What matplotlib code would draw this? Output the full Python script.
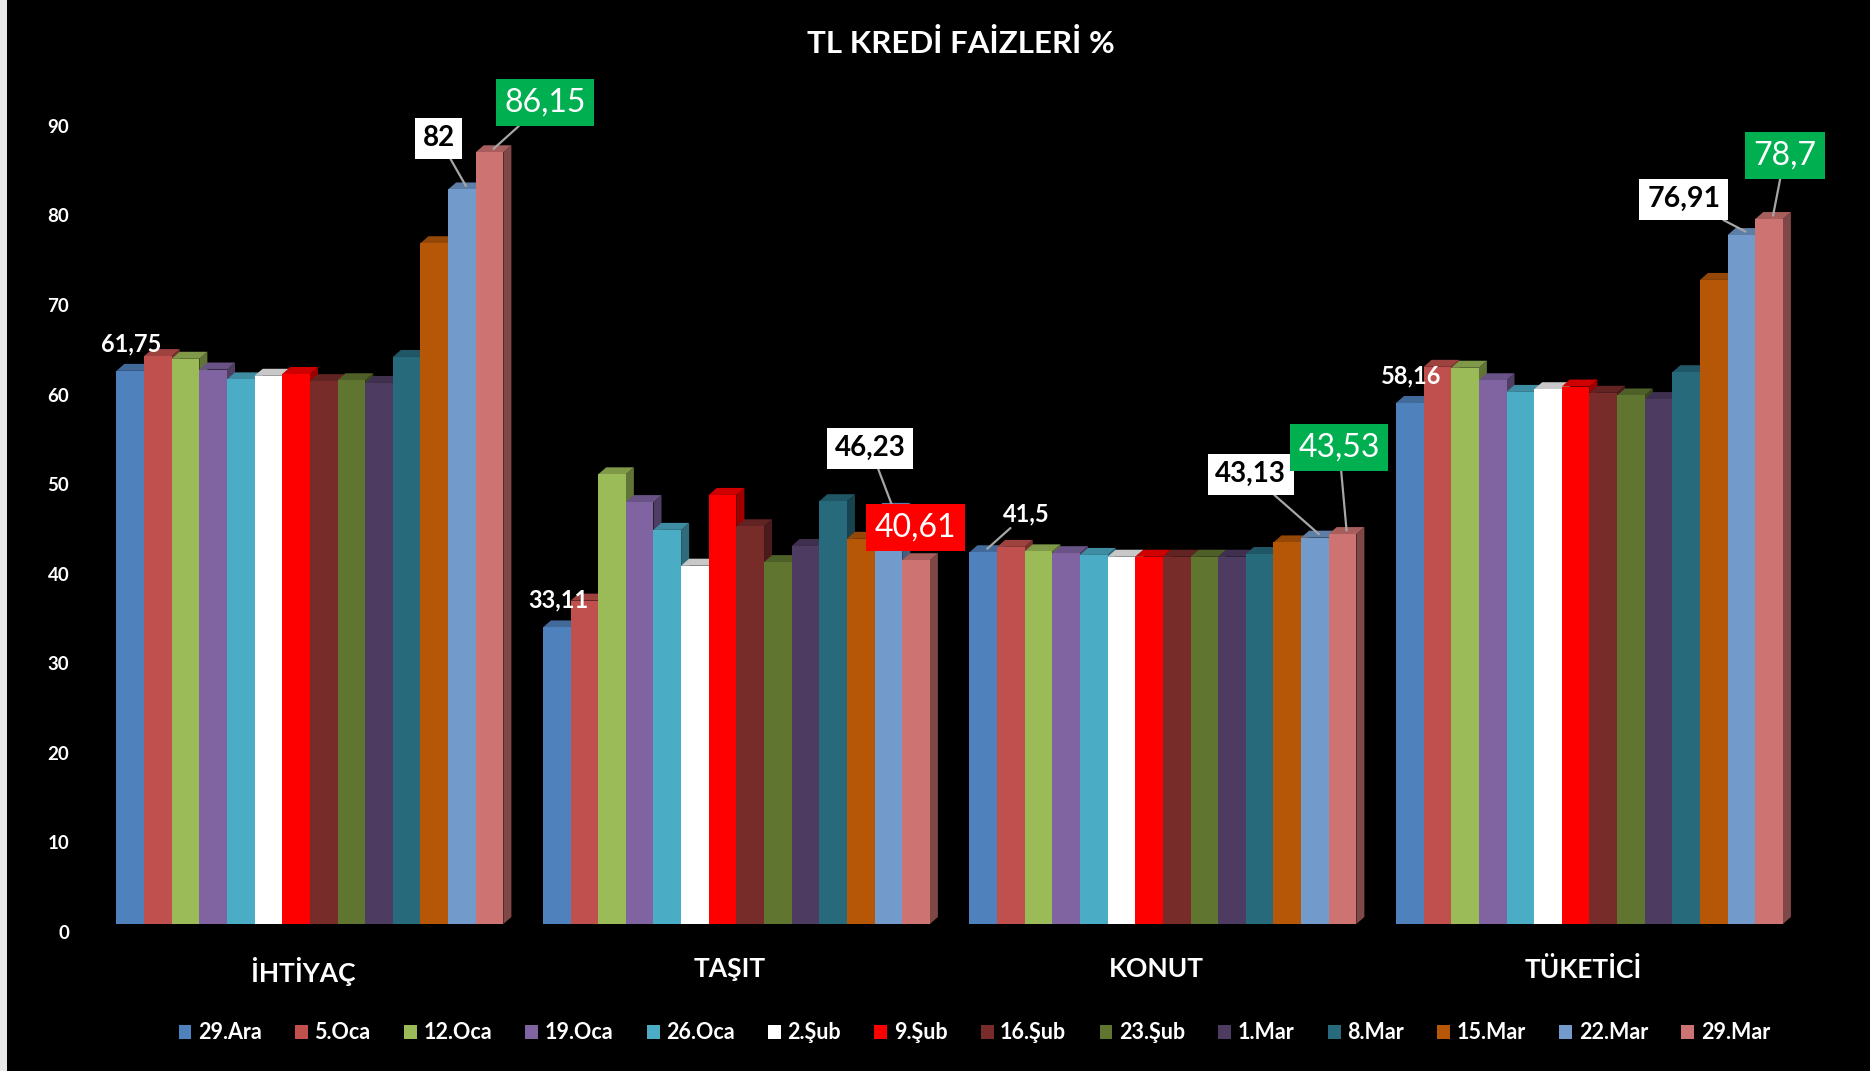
import matplotlib
matplotlib.use('Agg')
import matplotlib.pyplot as plt
from matplotlib.patches import Polygon, Patch, Rectangle
from matplotlib.transforms import ScaledTranslation
import matplotlib.colors as mcolors

plt.rcParams['font.family'] = ['Lato', 'DejaVu Sans']

CATEGORIES = ['İHTİYAÇ', 'TAŞIT', 'KONUT', 'TÜKETİCİ']
DATES = ['29.Ara', '5.Oca', '12.Oca', '19.Oca', '26.Oca', '2.Şub', '9.Şub',
         '16.Şub', '23.Şub', '1.Mar', '8.Mar', '15.Mar', '22.Mar', '29.Mar']
COLORS = ['#4F81BD', '#C0504D', '#9BBB59', '#8064A2', '#4BACC6', '#FFFFFF', '#FF0000',
          '#772C2A', '#5F7530', '#4D3B62', '#276A7C', '#B65708', '#729ACA', '#CD7371']

IHTIYAC = [61.75, 63.4, 63.1, 61.9, 60.8, 61.2, 61.4, 60.6, 60.7, 60.4, 63.3, 76.0, 82.0, 86.15]
TASIT = [33.11, 36.1, 50.2, 47.1, 44.0, 40.0, 47.9, 44.4, 40.4, 42.2, 47.2, 43.0, 46.23, 40.61]
KONUT = [41.5, 42.1, 41.6, 41.4, 41.2, 41.0, 41.0, 41.0, 41.0, 41.0, 41.3, 42.6, 43.13, 43.53]
TUKETICI = [58.16, 62.2, 62.1, 60.7, 59.4, 59.7, 60.0, 59.3, 59.0, 58.6, 61.6, 71.9, 76.91, 78.7]
SERIES = [IHTIYAC, TASIT, KONUT, TUKETICI]

W = 0.0648      # bar width
DX = 0.0188     # 3d depth, x
DY = 0.78       # 3d depth, y

fig = plt.figure(figsize=(18.7, 10.71), dpi=100, facecolor='black')
fig.patches.append(Rectangle((0, 0), 7 / 1870, 1, transform=fig.transFigure,
                             facecolor='#E8E8E8', edgecolor='none'))
ax = fig.add_axes([54 / 1870, (1071 - 924) / 1071, 1770 / 1870, (924 - 73) / 1071])
ax.set_facecolor('black')
ax.set_xlim(-0.6, 3.55)
ax.set_ylim(0, 95)


def shade(c, f):
    r, g, b = mcolors.to_rgb(c)
    return (r * f, g * f, b * f)


z = 2
for gi, vals in enumerate(SERIES):
    for j, v in enumerate(vals):
        x0 = gi + (j - 7) * W
        col = COLORS[j]
        top = '#C8C8C8' if col == '#FFFFFF' else shade(col, 0.82)
        side = shade(col, 0.62)
        ax.add_patch(Polygon([(x0 + W, 0), (x0 + W + DX, DY), (x0 + W + DX, v + DY), (x0 + W, v)],
                             closed=True, facecolor=side, edgecolor='none', zorder=z))
        ax.add_patch(Polygon([(x0, v), (x0 + DX, v + DY), (x0 + W + DX, v + DY), (x0 + W, v)],
                             closed=True, facecolor=top, edgecolor='none', zorder=z))
        ax.bar(x0, v, width=W, align='edge', color=col, edgecolor='none', zorder=z)
        z += 0.01

for s in ax.spines.values():
    s.set_visible(False)

ax.set_yticks(range(0, 100, 10))
ax.set_yticklabels([str(t) for t in range(0, 100, 10)])
ax.tick_params(axis='y', length=0, pad=-11, colors='white', labelsize=13.5)
for lab in ax.get_yticklabels():
    lab.set_fontweight('bold')
    lab.set_transform(lab.get_transform() + ScaledTranslation(0, -0.08, fig.dpi_scale_trans))

ax.set_xticks([i - 0.015 for i in range(4)])
ax.set_xticklabels(CATEGORIES)
ax.tick_params(axis='x', length=0, pad=24, colors='white', labelsize=19)
for lab in ax.get_xticklabels():
    lab.set_fontweight('bold')

fig.text(0.514, 0.959, 'TL KREDİ FAİZLERİ %', ha='center', va='center',
         color='white', fontsize=22.5, fontweight='bold')

# data labels: (group, bar index, text, text position, box colour, text colour, bold, size)
LABELS = [
    (0, 0, '61,75', (-0.419, 64.8), None, 'white', True, 17),
    (0, 12, '82', (0.302, 87.7), 'white', 'black', True, 20),
    (0, 13, '86,15', (0.551, 91.7), '#00B050', 'white', False, 23),
    (1, 0, '33,11', (0.582, 36.2), None, 'white', True, 17),
    (1, 12, '46,23', (1.314, 53.1), 'white', 'black', True, 20),
    (1, 13, '40,61', (1.420, 44.3), '#FF0000', 'white', False, 23),
    (2, 0, '41,5', (1.680, 45.8), None, 'white', True, 17),
    (2, 12, '43,13', (2.206, 50.2), 'white', 'black', True, 20),
    (2, 13, '43,53', (2.413, 53.2), '#00B050', 'white', False, 23),
    (3, 0, '58,16', (2.583, 61.2), None, 'white', True, 17),
    (3, 12, '76,91', (3.221, 80.9), 'white', 'black', True, 20.5),
    (3, 13, '78,7', (3.458, 85.8), '#00B050', 'white', False, 23),
]
LEADERS = {(0, 12), (0, 13), (1, 12), (2, 0), (2, 12), (2, 13), (3, 12), (3, 13)}

for gi, j, txt, pos, box, tcol, bold, size in LABELS:
    v = SERIES[gi][j]
    bx = gi + (j - 7) * W + W / 2 + DX / 2
    kw = {}
    if box is not None:
        kw['bbox'] = dict(boxstyle='square,pad=0.27', facecolor=box, edgecolor='none')
    if (gi, j) in LEADERS:
        kw['arrowprops'] = dict(arrowstyle='-', color='#A6A6A6', lw=1.6, shrinkA=0, shrinkB=0)
    ax.annotate(txt, xy=(bx, v + DY / 2), xytext=pos, textcoords='data',
                ha='center', va='center', color=tcol, fontsize=size,
                fontweight='bold' if bold else 'normal', zorder=10, **kw)

handles = [Patch(facecolor=c, edgecolor='none') for c in COLORS]
leg = fig.legend(handles, DATES, loc='center', bbox_to_anchor=(0.521, 0.0355), ncol=14,
                 frameon=False, handlelength=0.6, handleheight=0.6, handletextpad=0.3,
                 columnspacing=1.55, fontsize=15.5)
for t in leg.get_texts():
    t.set_color('white')
    t.set_fontweight('bold')

fig.savefig('out.png', dpi=100, facecolor='black')
